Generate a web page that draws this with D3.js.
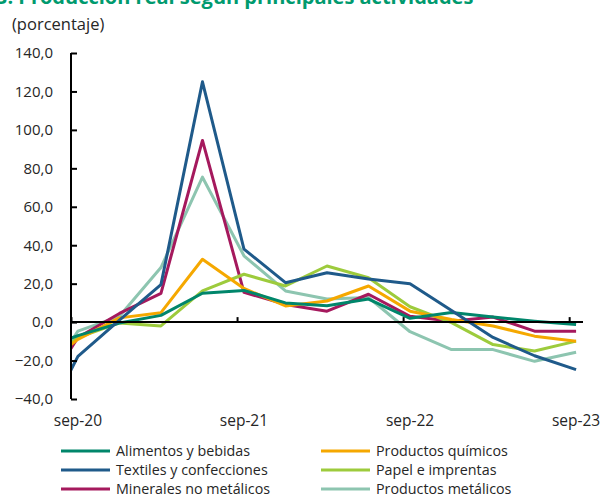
<!DOCTYPE html>
<html lang="es">
  <head>
    <meta charset="utf-8">
    <title>Producción real según principales actividades</title>
    <script src="https://d3js.org/d3.v7.min.js"></script>
    <style>
      body { margin: 0; background: #fff; }
      text { font-family: "Open Sans", sans-serif; fill: #262626; }
      .title { font-weight: bold; fill: #009a6e; font-size: 20px; }
    </style>
  </head>
  <body>
  <div id="chart"></div>
  <script>
  // quarterly dates, months counted from sep-20 (jun-20 is only partly visible)
  var months = [-3, 0, 3, 6, 9, 12, 15, 18, 21, 24, 27, 30, 33, 36];
  var xLabels = ["sep-20", "sep-21", "sep-22", "sep-23"];
  var xLabelMonths = [0, 12, 24, 36];
  var yTicks = [-40, -20, 0, 20, 40, 60, 80, 100, 120, 140];

  var alimentos  = [-15, -7, -0.5, 3.5, 15, 16.5, 10, 8.5, 12, 2, 5, 2.6, 0.5, -1.2];
  var textiles   = [-60, -17.8, 1, 19.5, 125, 38, 20.5, 25.7, 22.4, 20, 6, -8, -17.5, -24.7];
  var minerales  = [-42, -8, 4.5, 15, 94.5, 15.5, 9.2, 5.7, 14.5, 3, 0.5, 2.6, -4.7, -4.7];
  var quimicos   = [-25, -9, 2.2, 4.9, 32.7, 17.5, 8.4, 11, 18.8, 5.7, 1.4, -2, -7.3, -9.9];
  var papel      = [-26, -8, -0.4, -2, 16.2, 24.9, 18.8, 29.2, 23.1, 8, -0.3, -11.7, -15, -9.9];
  var metalicos  = [-38, -4.7, 3, 28.4, 75.4, 34.5, 16.2, 12, 12.8, -5, -14.3, -14.3, -20.4, -15.7];

  var series = [
    {name: "Alimentos y bebidas", values: alimentos, color: "#00866b"},
    {name: "Productos químicos", values: quimicos, color: "#f5a800"},
    {name: "Textiles y confecciones", values: textiles, color: "#1f5a8a"},
    {name: "Papel e imprentas", values: papel, color: "#9dcb3c"},
    {name: "Minerales no metálicos", values: minerales, color: "#a5195d"},
    {name: "Productos metálicos", values: metalicos, color: "#8dc5b0"}
  ];
  // drawing order (back to front)
  var drawOrder = [5, 4, 3, 1, 0, 2];

  var w = 605, h = 504;
  var x0 = 71, x1 = 583, yTop = 53, yBottom = 399;

  var svg = d3.select("#chart").append("svg")
    .attr("width", w)
    .attr("height", h);

  var xScale = d3.scaleLinear().domain([0, 37]).range([x0, x1]);
  var yScale = d3.scaleLinear().domain([-40, 140]).range([yBottom, yTop]);

  svg.append("text")
    .attr("class", "title")
    .attr("x", -6)
    .attr("y", 4)
    .text("B. Producción real según principales actividades");

  svg.append("text")
    .attr("x", 12)
    .attr("y", 30)
    .style("font-size", "16.5px")
    .text("(porcentaje)");

  svg.append("clipPath").attr("id", "plot-clip")
    .append("rect")
    .attr("x", x0).attr("y", 0)
    .attr("width", x1 - x0 + 10).attr("height", h);

  var line = d3.line()
    .x((d, i) => xScale(months[i] + 0.5))
    .y(d => yScale(d));

  var lines = svg.append("g").attr("clip-path", "url(#plot-clip)");
  drawOrder.forEach(function (k) {
    lines.append("path")
      .datum(series[k].values)
      .attr("d", line)
      .attr("fill", "none")
      .attr("stroke", series[k].color)
      .attr("stroke-width", 3)
      .attr("stroke-linejoin", "round");
  });

  // y axis
  var yAxis = d3.axisRight(yScale)
    .tickValues(yTicks)
    .tickSize(6)
    .tickFormat(d => d3.format(".1f")(d).replace(".", ","));
  var gy = svg.append("g")
    .attr("transform", `translate(${x0},0)`)
    .call(yAxis);
  gy.select(".domain").attr("stroke", "#000").attr("stroke-width", 2)
    .attr("d", `M0,${yTop}V${yBottom}`);
  gy.selectAll(".tick line").attr("stroke", "#000").attr("stroke-width", 2);
  gy.selectAll(".tick text")
    .attr("x", -18)
    .attr("text-anchor", "end")
    .style("font-size", "15px")
    .style("font-family", "Open Sans, sans-serif")
    .attr("fill", "#262626");

  // x axis at zero
  var xAxis = d3.axisTop(xScale)
    .tickValues(xLabelMonths)
    .tickSize(5)
    .tickFormat("");
  var gx = svg.append("g")
    .attr("transform", `translate(0,${yScale(0)})`)
    .call(xAxis);
  gx.select(".domain").attr("stroke", "#000").attr("stroke-width", 2)
    .attr("d", `M${x0},0H${x1}`);
  gx.selectAll(".tick line").attr("stroke", "#000").attr("stroke-width", 2);

  svg.selectAll(".xlab")
    .data(xLabels)
    .enter().append("text")
    .attr("class", "xlab")
    .attr("x", (d, i) => xScale(xLabelMonths[i] + 0.5))
    .attr("y", 426)
    .attr("text-anchor", "middle")
    .style("font-size", "15.5px")
    .text(d => d);

  // legend
  var legend = svg.append("g");
  series.forEach(function (s, i) {
    var col = i % 2, row = Math.floor(i / 2);
    var lx = col === 0 ? 61 : 321;
    var ly = 451 + row * 19;
    legend.append("line")
      .attr("x1", lx).attr("x2", lx + 49)
      .attr("y1", ly).attr("y2", ly)
      .attr("stroke", s.color)
      .attr("stroke-width", 3);
    legend.append("text")
      .attr("x", lx + 55)
      .attr("y", ly + 5)
      .style("font-size", "14.3px")
      .text(s.name);
  });
  </script>
  </body>
</html>
